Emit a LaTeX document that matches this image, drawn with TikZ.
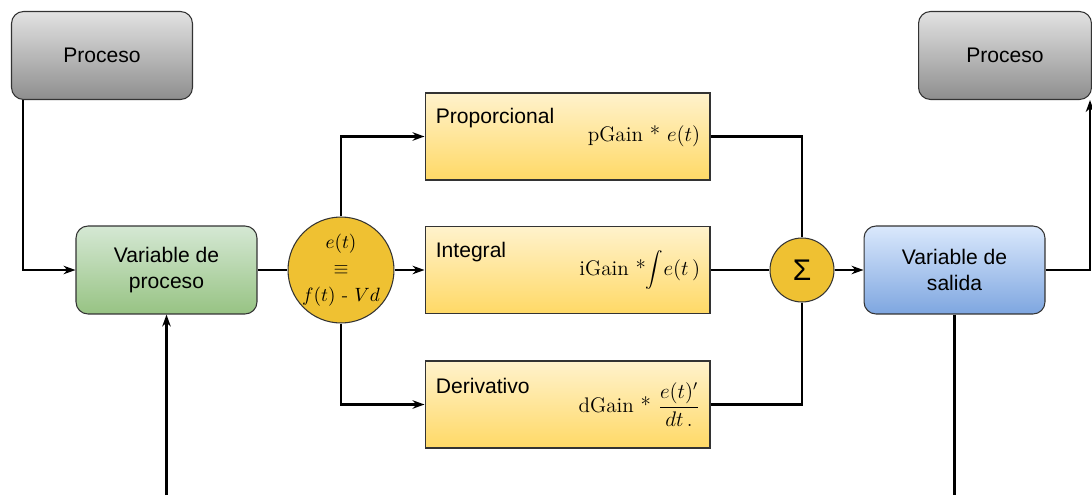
\documentclass[tikz,border=0pt]{standalone}
\usepackage{fontspec}
\setsansfont{Liberation Sans}
\usetikzlibrary{arrows.meta}
\definecolor{procTop}{HTML}{E2E2E2}
\definecolor{procBot}{HTML}{8E8E8E}
\definecolor{varTop}{HTML}{D5E8D4}
\definecolor{varBot}{HTML}{97C383}
\definecolor{outTop}{HTML}{DAE8FC}
\definecolor{outBot}{HTML}{7EA6E0}
\definecolor{termTop}{HTML}{FFF2CC}
\definecolor{termBot}{HTML}{FFD966}
\definecolor{dotFill}{HTML}{EFC132}
\begin{document}
\begin{tikzpicture}[x=0.02cm,y=0.02cm,
box/.style={draw=black!80,line width=0.6pt,rounded corners=0.24cm,minimum width=3.62cm,minimum height=1.76cm,align=center,font=\sffamily\fontsize{12}{15}\selectfont},
proc/.style={box,top color=procTop,bottom color=procBot},
term/.style={draw=black!80,line width=0.6pt,top color=termTop,bottom color=termBot,minimum width=5.7cm,minimum height=1.74cm},
dot/.style={circle,draw=black!80,line width=0.6pt,fill=dotFill,inner sep=0pt},
lbl/.style={anchor=west,inner sep=0pt,font=\sffamily\fontsize{12}{14}\selectfont},
form/.style={anchor=east,inner sep=0pt,font=\fontsize{12}{14}\selectfont},
wire/.style={line width=1.3pt},
arr/.style={wire,-{Stealth[length=0.24cm,width=0.17cm]}},
]
\useasboundingbox (0,0) rectangle (1092,495);
% outer blocks
\node[proc] (procin) at (102,439.5) {Proceso};
\node[proc,minimum width=3.46cm] (procout) at (1005,439.5) {Proceso};
\node[box,top color=varTop,bottom color=varBot] (varproc) at (166.5,225) {Variable de\\proceso};
\node[box,top color=outTop,bottom color=outBot] (salida) at (954.5,225) {Variable de\\salida};
% error and sum
\node[dot,minimum size=2cm,align=center,font=\fontsize{11}{15}\selectfont] (err) at (341,225) {$e(t)$\\$\equiv$\\$f(t)$ - $Vd$};
\node[dot,minimum size=1.28cm,font=\sffamily\fontsize{17}{18}\selectfont] (sum) at (802,225) {Σ};
% terms
\node[term] (prop) at (567.5,358.5) {};
\node[term] (integ) at (567.5,225) {};
\node[term] (deriv) at (567.5,90.5) {};
\node[lbl] at ([xshift=0.22cm,yshift=-0.52cm]prop.north west) {Proporcional};
\node[lbl] at ([xshift=0.22cm,yshift=-0.52cm]integ.north west) {Integral};
\node[lbl] at ([xshift=0.22cm,yshift=-0.5cm]deriv.north west) {Derivativo};
\node[form] at ([xshift=-0.2cm]prop.east) {pGain * $e(t)$};
\node[form] at ([xshift=-0.2cm]integ.east) {iGain *$\displaystyle\int\! e(t\,)$};
\node[form] at ([xshift=-0.2cm]deriv.east) {dGain * $\displaystyle\frac{e(t)'}{dt\,.}$};
% connectors
\coordinate (inp) at (varproc.south |- 0,0);
\coordinate (outp) at (salida.south |- 0,0);
\draw[arr] ([xshift=0.24cm]procin.south west) |- (varproc.west);
\draw[arr] (inp) -- (varproc.south);
\draw[wire] (varproc.east) -- (err.west);
\draw[arr] (err.north) |- (prop.west);
\draw[arr] (err.east) -- (integ.west);
\draw[arr] (err.south) |- (deriv.west);
\draw[wire] (prop.east) -| (sum.north);
\draw[wire] (integ.east) -- (sum.west);
\draw[wire] (deriv.east) -| (sum.south);
\draw[arr] (sum.east) -- (salida.west);
\draw[arr] (salida.east) -| ([xshift=-0.04cm]procout.south east);
\draw[wire] (salida.south) -- (outp);
\end{tikzpicture}
\end{document}
